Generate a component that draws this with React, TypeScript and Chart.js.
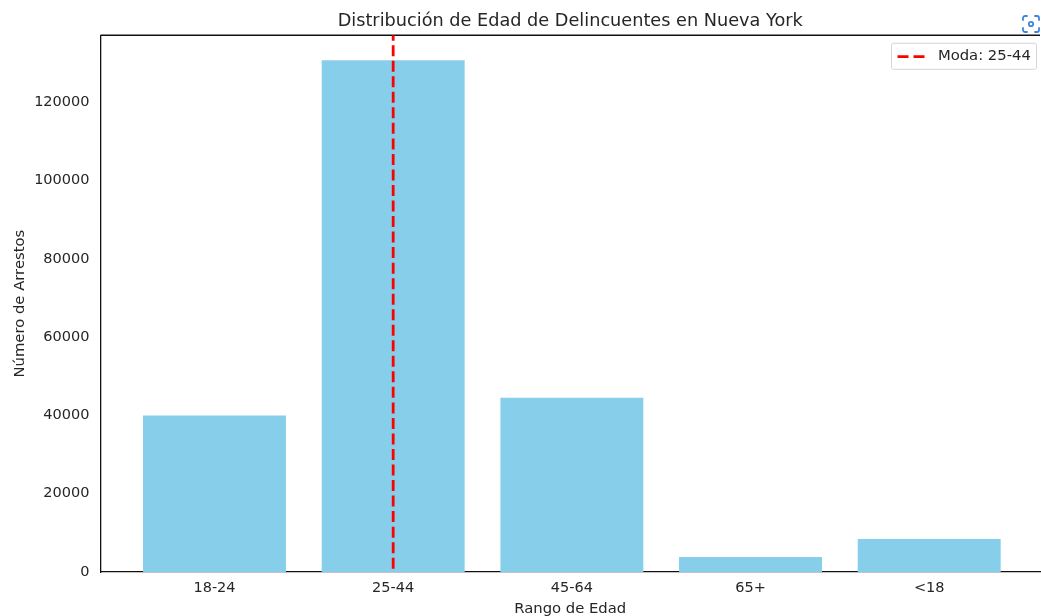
import React, { useEffect, useRef } from "react";
import { Chart, registerables } from "chart.js";

Chart.register(...registerables);

const chartTitle = "Distribución de Edad de Delincuentes en Nueva York";
const xAxisTitle = "Rango de Edad";
const yAxisTitle = "Número de Arrestos";
const categories = ["18-24", "25-44", "45-64", "65+", "<18"];
const arrests = [40000, 130700, 44500, 3800, 8400];
const modeCategory = "25-44";
const yTicks = [0, 20000, 40000, 60000, 80000, 100000, 120000];
const yMax = 137100;
const xMin = -0.638;
const xMax = 4.62;

const FONT = "'DejaVu Sans', sans-serif";
const INK = "#262626";
const AXIS = "#111111";

const framePlugin = {
  id: "frame",
  afterLayout(chart: any) {
    const { legend, chartArea } = chart;
    if (!legend) return;
    legend.left = chartArea.right - 148.5;
    legend.right = legend.left + 145;
    legend.top = chartArea.top + 8;
    legend.bottom = legend.top + 26;
  },
  beforeDatasetsDraw(chart: any) {
    const { ctx, chartArea, legend } = chart;
    ctx.save();
    ctx.strokeStyle = AXIS;
    ctx.lineWidth = 1.3;
    ctx.beginPath();
    ctx.moveTo(chartArea.left, chartArea.top);
    ctx.lineTo(chartArea.right, chartArea.top);
    ctx.stroke();
    if (legend) {
      ctx.strokeStyle = "#d6d6d6";
      ctx.lineWidth = 1;
      ctx.beginPath();
      ctx.roundRect(legend.left, legend.top, 145, 26, 2);
      ctx.stroke();
    }
    ctx.restore();
  },
};

export default function App() {
  const ref = useRef<HTMLCanvasElement | null>(null);

  useEffect(() => {
    document.body.style.margin = "0";
    const chart = new Chart(ref.current as HTMLCanvasElement, {
      type: "bar",
      data: {
        datasets: [
          {
            type: "bar",
            label: "Arrestos",
            data: categories.map((_, i) => ({ x: i, y: arrests[i] })),
            backgroundColor: "#87ceeb",
            barPercentage: 0.8,
            categoryPercentage: 1,
            order: 2,
          },
          {
            type: "line",
            label: `Moda: ${modeCategory}`,
            data: [
              { x: categories.indexOf(modeCategory), y: 0 },
              { x: categories.indexOf(modeCategory), y: yMax },
            ],
            borderColor: "#ff0000",
            borderWidth: 2.8,
            borderDash: [11, 4.53],
            borderDashOffset: -3.3,
            pointRadius: 0,
            order: 1,
          },
        ] as any,
      },
      options: {
        responsive: false,
        animation: false,
        devicePixelRatio: 1,
        layout: { padding: { top: 0, right: 1, bottom: 0, left: 0 } },
        scales: {
          x: {
            type: "linear",
            min: xMin,
            max: xMax,
            offset: false,
            grid: { display: false, tickLength: 5, tickColor: AXIS, tickWidth: 1.2, drawOnChartArea: false },
            border: { color: AXIS, width: 1.3 },
            afterBuildTicks: (axis: any) => {
              axis.ticks = categories.map((_, i) => ({ value: i }));
            },
            afterFit: (axis: any) => {
              axis.height = 44;
            },
            ticks: {
              autoSkip: false,
              maxRotation: 0,
              color: INK,
              font: { family: FONT, size: 14.5 },
              padding: 3,
              callback: (v: any) => categories[Number(v)],
            },
            title: {
              display: true,
              text: xAxisTitle,
              color: INK,
              font: { family: FONT, size: 14.8 },
              padding: { top: 4, bottom: -2 },
            },
          },
          y: {
            min: 0,
            max: yMax,
            grid: { display: false, tickLength: 5, tickColor: AXIS, tickWidth: 1.2, drawOnChartArea: false },
            border: { color: AXIS, width: 1.3 },
            afterBuildTicks: (axis: any) => {
              axis.ticks = yTicks.map((value) => ({ value }));
            },
            afterFit: (axis: any) => {
              axis.width = 100.5;
            },
            ticks: {
              color: INK,
              font: { family: FONT, size: 14.5 },
              padding: 6,
              callback: (v: any) => String(v),
            },
            title: {
              display: true,
              text: yAxisTitle,
              color: INK,
              font: { family: FONT, size: 14.8 },
              padding: { top: 11, bottom: 0 },
            },
          },
        },
        plugins: {
          title: {
            display: true,
            fullSize: false,
            text: chartTitle,
            color: INK,
            font: { family: FONT, size: 17.7, weight: "normal" },
            padding: { top: 11, bottom: 3 },
          },
          tooltip: { enabled: false },
          legend: {
            position: "chartArea" as any,
            align: "start",
            labels: {
              usePointStyle: true,
              pointStyle: "line",
              pointStyleWidth: 33,
              color: INK,
              font: { family: FONT, size: 14.8 },
              padding: 6,
              generateLabels: (c: any) => [
                {
                  text: c.data.datasets[1].label,
                  datasetIndex: 1,
                  pointStyle: "line",
                  strokeStyle: "#ff0000",
                  fillStyle: "#ff0000",
                  lineWidth: 2.8,
                  lineDash: [11, 5, 11, 100],
                  fontColor: INK,
                },
              ],
            },
          },
        },
      } as any,
      plugins: [framePlugin],
    });
    return () => chart.destroy();
  }, []);

  return (
    <div style={{ position: "relative", width: 1041, height: 616, overflow: "hidden" }}>
      <canvas ref={ref} width={1041} height={616} style={{ display: "block" }} />
      <svg
        width="20"
        height="20"
        viewBox="0 0 20 20"
        style={{ position: "absolute", left: 1021, top: 14 }}
        fill="none"
        stroke="#3f86d8"
        strokeWidth="1.8"
        strokeLinecap="round"
      >
        <path d="M2 6V4a2 2 0 0 1 2-2h2M14 2h2a2 2 0 0 1 2 2v2M18 14v2a2 2 0 0 1-2 2h-2M6 18H4a2 2 0 0 1-2-2v-2" />
        <circle cx="10" cy="10" r="2.2" />
      </svg>
    </div>
  );
}
